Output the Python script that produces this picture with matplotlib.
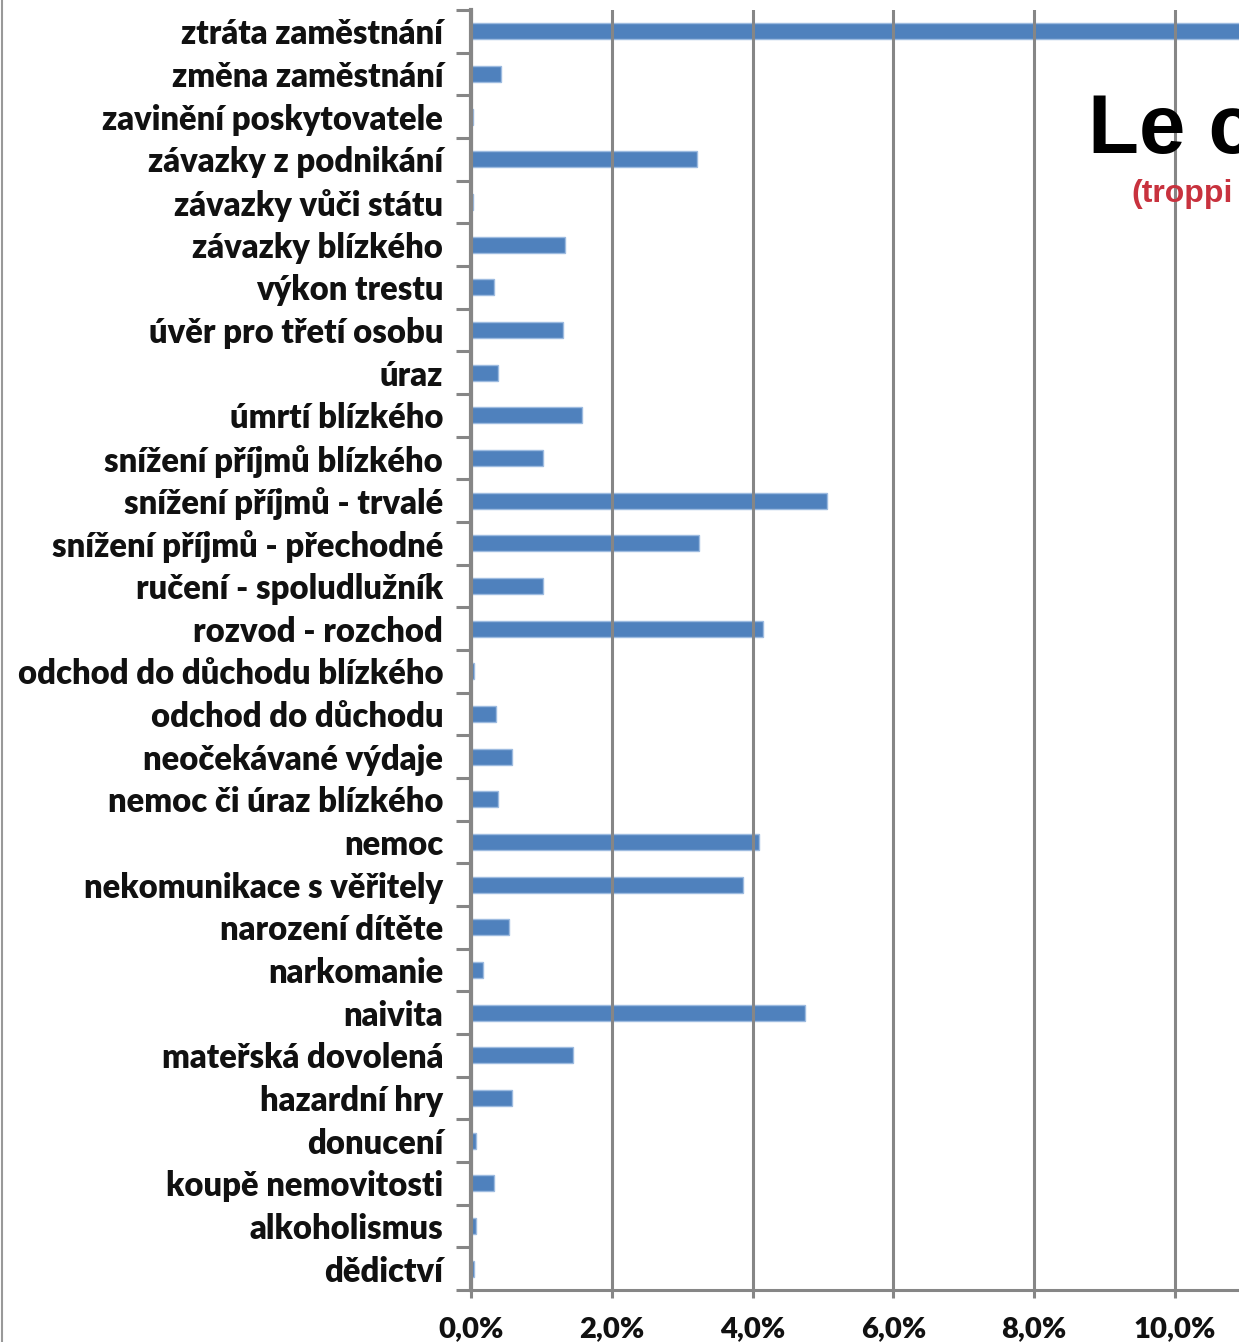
import matplotlib.pyplot as plt
from matplotlib.lines import Line2D

# categories from top to bottom, values in percent
categories = [
    "ztráta zaměstnání", "změna zaměstnání", "zavinění poskytovatele",
    "závazky z podnikání", "závazky vůči státu", "závazky blízkého",
    "výkon trestu", "úvěr pro třetí osobu", "úraz", "úmrtí blízkého",
    "snížení příjmů blízkého", "snížení příjmů - trvalé",
    "snížení příjmů - přechodné", "ručení - spoludlužník", "rozvod - rozchod",
    "odchod do důchodu blízkého", "odchod do důchodu", "neočekávané výdaje",
    "nemoc či úraz blízkého", "nemoc", "nekomunikace s věřitely",
    "narození dítěte", "narkomanie", "naivita", "mateřská dovolená",
    "hazardní hry", "donucení", "koupě nemovitosti", "alkoholismus", "dědictví",
]
values = [
    11.5, 0.42, 0.03, 3.21, 0.03, 1.33, 0.33, 1.31, 0.38, 1.58,
    1.02, 5.06, 3.24, 1.02, 4.15, 0.04, 0.36, 0.58, 0.38, 4.09,
    3.86, 0.54, 0.17, 4.74, 1.45, 0.58, 0.07, 0.33, 0.07, 0.04,
]
xticks = [0, 2, 4, 6, 8, 10]
xtick_labels = ["0,0%", "2,0%", "4,0%", "6,0%", "8,0%", "10,0%"]

W, H = 1239, 1342
fig = plt.figure(figsize=(W / 100, H / 100), dpi=100)
ax = fig.add_axes([471 / W, 1 - 1290 / H, 1 - 471 / W, (1290 - 10) / H])
ax.set_facecolor("none")

n = len(categories)
ypos = list(range(n))
ax.barh(ypos, values, height=0.38, color="#4F81BD", edgecolor="#9DBBE0",
        linewidth=1.0, zorder=2)
ax.set_ylim(n - 0.5, -0.5)
ax.set_xlim(0, (W - 471) / 70.4)

grid = "#868686"
ax.set_xticks(xticks)
ax.set_xticklabels(xtick_labels)
ax.xaxis.grid(True, color=grid, linewidth=2.2, zorder=1)
ax.set_axisbelow(False)

ax.set_yticks(ypos)
ax.set_yticklabels(categories)
ax.set_yticks([i - 0.5 for i in range(n + 1)], minor=True)
ax.tick_params(axis="y", which="major", length=0, pad=20)
ax.tick_params(axis="y", which="minor", length=11, width=2.2, color=grid)
ax.tick_params(axis="x", length=6, width=2.2, color=grid, pad=13)

for lab in ax.get_yticklabels():
    lab.set_fontfamily("Lato")
    lab.set_fontweight("heavy")
    lab.set_fontsize(23.6)
    lab.set_color("#111111")
for lab in ax.get_xticklabels():
    lab.set_fontfamily("Lato")
    lab.set_fontweight("heavy")
    lab.set_fontsize(21)
    lab.set_color("#111111")

for s in ["top", "right"]:
    ax.spines[s].set_visible(False)
ax.spines["left"].set_color(grid)
ax.spines["left"].set_linewidth(3)
ax.spines["bottom"].set_color(grid)
ax.spines["bottom"].set_linewidth(2.2)

# title, partly cut off by the figure edge
fig.text(1088 / W, 1 - 153 / H, "Le c", fontsize=60, fontweight="bold",
         family="Liberation Sans", color="black", zorder=0)
fig.text(1131 / W, 1 - 202 / H, "(troppi", fontsize=23, fontweight="bold",
         family="Liberation Sans", color="#C8323E", zorder=0)

# left frame line
fig.add_artist(Line2D([1.5 / W, 1.5 / W], [0, 1], color="#999999",
                      linewidth=1.5, transform=fig.transFigure))

fig.savefig("out.png", dpi=100)
